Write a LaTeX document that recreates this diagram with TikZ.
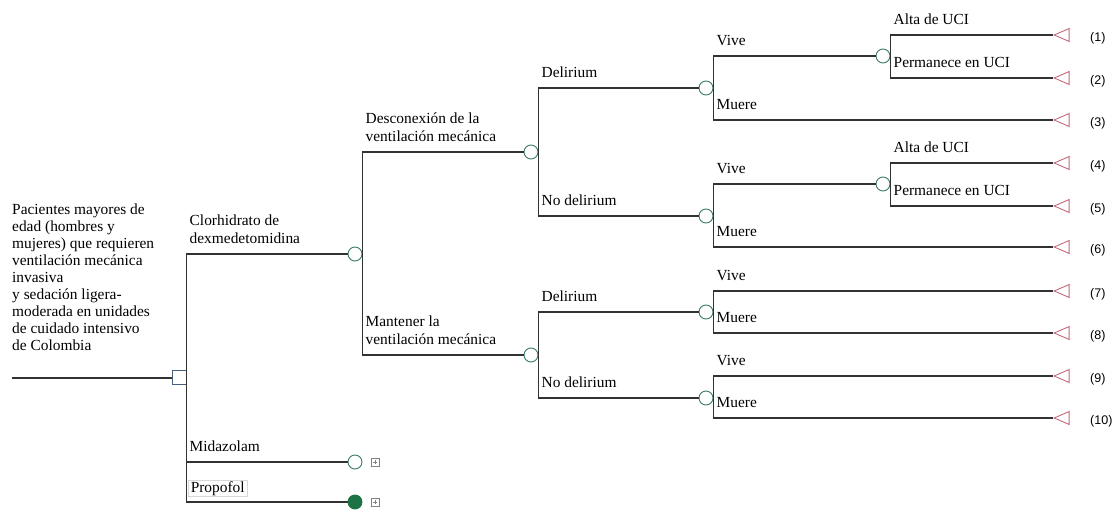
\documentclass[tikz,border=0pt]{standalone}
\usepackage{fontspec}
\setmainfont{Liberation Serif}
\newfontfamily\numfont{Liberation Sans}
\usetikzlibrary{shapes.geometric}
\definecolor{linec}{RGB}{50,50,50}
\definecolor{chancec}{RGB}{60,125,95}
\definecolor{fillc}{RGB}{30,115,70}
\definecolor{decc}{RGB}{70,95,125}
\definecolor{termc}{RGB}{195,105,120}
\definecolor{plusc}{RGB}{130,130,130}
\definecolor{boxc}{RGB}{215,215,215}
\begin{document}
\begin{tikzpicture}[x=1pt,y=-1pt,
  conn/.style={draw=linec, line width=1.15pt},
  chance/.style={circle, draw=chancec, line width=0.9pt, fill=white, minimum size=14pt, inner sep=0pt},
  chancefull/.style={circle, draw=fillc, fill=fillc, line width=0.9pt, minimum size=14pt, inner sep=0pt},
  decision/.style={rectangle, draw=decc, line width=1pt, fill=white, minimum size=14pt, inner sep=0pt},
  terminal/.style={isosceles triangle, isosceles triangle stretches, shape border rotate=180, draw=termc, line width=0.9pt, minimum width=13pt, minimum height=15pt, inner sep=0pt, anchor=apex},
  lbl/.style={anchor=base west, inner sep=0pt, font=\fontsize{15.4}{18}\selectfont, align=left},
  num/.style={anchor=west, inner sep=0pt, font=\numfont\fontsize{12.5}{14}\selectfont},
  plusbox/.style={rectangle, draw=plusc, line width=0.5pt, minimum size=8pt, inner sep=0pt,
    path picture={\draw[plusc, line width=0.5pt]
      ([yshift=-1.6pt]path picture bounding box.north) -- ([yshift=1.6pt]path picture bounding box.south)
      ([xshift=1.6pt]path picture bounding box.west) -- ([xshift=-1.6pt]path picture bounding box.east);}}
]
\useasboundingbox (0,0) rectangle (1117,510);

% nodes
\coordinate (start) at (12,378);
\node[decision] (root) at (179,378) {};
\node[chance] (c1) at (355,254) {};
\node[chance] (c2) at (355,462) {};
\node[chancefull] (c3) at (355,502) {};
\node[plusbox] (p2) at (375,462) {};
\node[plusbox] (p3) at (375,502) {};
\node[chance] (d1) at (531,152) {};
\node[chance] (d2) at (531,355) {};
\node[chance] (e1) at (706,88) {};
\node[chance] (e2) at (706,216) {};
\node[chance] (e3) at (706,312) {};
\node[chance] (e4) at (706,398) {};
\node[chance] (f1) at (883,56) {};
\node[chance] (f2) at (883,184) {};
\node[terminal] (t1) at (1053,35) {};
\node[terminal] (t2) at (1053,78) {};
\node[terminal] (t3) at (1053,120) {};
\node[terminal] (t4) at (1053,163) {};
\node[terminal] (t5) at (1053,206) {};
\node[terminal] (t6) at (1053,247) {};
\node[terminal] (t7) at (1053,291) {};
\node[terminal] (t8) at (1053,333) {};
\node[terminal] (t9) at (1053,376) {};
\node[terminal] (t10) at (1053,418) {};

% connectors
\draw[conn] (start) -- (root.west);
\draw[conn] (root.east) |- (c1.west);
\draw[conn] (root.east) |- (c2.west);
\draw[conn] (root.east) |- (c3.west);
\draw[conn] (c1.east) |- (d1.west);
\draw[conn] (c1.east) |- (d2.west);
\draw[conn] (d1.east) |- (e1.west);
\draw[conn] (d1.east) |- (e2.west);
\draw[conn] (d2.east) |- (e3.west);
\draw[conn] (d2.east) |- (e4.west);
\draw[conn] (e1.east) |- (f1.west);
\draw[conn] (e1.east) |- (t3.apex);
\draw[conn] (e2.east) |- (f2.west);
\draw[conn] (e2.east) |- (t6.apex);
\draw[conn] (f1.east) |- (t1.apex);
\draw[conn] (f1.east) |- (t2.apex);
\draw[conn] (f2.east) |- (t4.apex);
\draw[conn] (f2.east) |- (t5.apex);
\draw[conn] (e3.east) |- (t7.apex);
\draw[conn] (e3.east) |- (t8.apex);
\draw[conn] (e4.east) |- (t9.apex);
\draw[conn] (e4.east) |- (t10.apex);

% labels (base = baseline of the last line)
\node[lbl, font=\fontsize{15.4}{17.1}\selectfont] (lroot) at (12,351) {Pacientes mayores de\\edad (hombres y\\mujeres) que requieren\\ventilación mecánica\\invasiva\\y sedación ligera-\\moderada en unidades\\de cuidado intensivo\\de Colombia};
\node[lbl] (lc1) at (189.5,244) {Clorhidrato de\\dexmedetomidina};
\node[lbl] (lc2) at (189.5,452) {Midazolam};
\node[lbl, draw=boxc, line width=0.5pt, inner xsep=2.5pt, inner ysep=1.5pt, text height=11pt, text depth=2pt] (lc3) at (188,493) {Propofol};
\node[lbl] (ld1) at (365.5,142) {Desconexión de la\\ventilación mecánica};
\node[lbl] (ld2) at (365.5,345) {Mantener la\\ventilación mecánica};
\node[lbl] (le1) at (541.5,78) {Delirium};
\node[lbl] (le2) at (541.5,206) {No delirium};
\node[lbl] (le3) at (541.5,302) {Delirium};
\node[lbl] (le4) at (541.5,388) {No delirium};
\node[lbl] (lf1) at (716.5,46) {Vive};
\node[lbl] (lt3) at (716.5,110) {Muere};
\node[lbl] (lf2) at (716.5,174) {Vive};
\node[lbl] (lt6) at (716.5,237) {Muere};
\node[lbl] (lt7) at (716.5,281) {Vive};
\node[lbl] (lt8) at (716.5,323) {Muere};
\node[lbl] (lt9) at (716.5,366) {Vive};
\node[lbl] (lt10) at (716.5,408) {Muere};
\node[lbl] (lt1) at (893.5,25) {Alta de UCI};
\node[lbl] (lt2) at (893.5,68) {Permanece en UCI};
\node[lbl] (lt4) at (893.5,153) {Alta de UCI};
\node[lbl] (lt5) at (893.5,196) {Permanece en UCI};

% outcome numbers
\node[num] (n1) at (1090,38) {(1)};
\node[num] (n2) at (1090,81) {(2)};
\node[num] (n3) at (1090,123) {(3)};
\node[num] (n4) at (1090,166) {(4)};
\node[num] (n5) at (1090,209) {(5)};
\node[num] (n6) at (1090,250) {(6)};
\node[num] (n7) at (1090,294) {(7)};
\node[num] (n8) at (1090,336) {(8)};
\node[num] (n9) at (1090,379) {(9)};
\node[num] (n10) at (1090,421) {(10)};
\end{tikzpicture}
\end{document}
